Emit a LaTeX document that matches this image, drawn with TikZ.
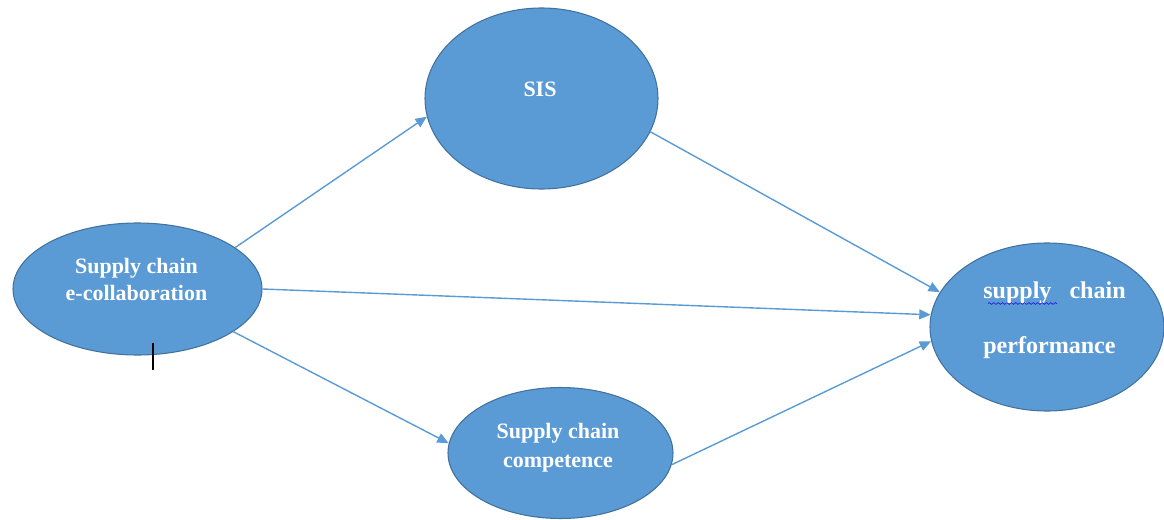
\documentclass[tikz,border=0pt]{standalone}
\usepackage{fontspec}
\setmainfont{Liberation Serif}
\usetikzlibrary{shapes.geometric,arrows.meta,decorations.pathmorphing}

\definecolor{blobfill}{HTML}{5B9BD5}
\definecolor{blobline}{HTML}{41719C}
\definecolor{linkcol}{HTML}{5B9BD5}
\definecolor{spellcol}{HTML}{2020E0}

\begin{document}
\begin{tikzpicture}[
    blob/.style={ellipse, draw=blobline, line width=0.6pt, fill=blobfill, inner sep=0pt},
    lbl/.style={text=white, font=\fontsize{12.5}{15.5}\selectfont\bfseries, align=center, inner sep=0pt},
    link/.style={draw=linkcol, line width=0.8pt, -{Triangle[length=6.5pt,width=5.6pt]}}
  ]
  \useasboundingbox (0,0) rectangle (23.28,10.38);

  % Constructs
  \node[blob, minimum width=4.98cm, minimum height=2.64cm] (ecollab) at (2.75,4.60) {};
  \node[blob, minimum width=4.66cm, minimum height=3.62cm] (sis) at (10.83,8.41) {};
  \node[blob, minimum width=4.50cm, minimum height=2.62cm] (competence) at (11.21,1.32) {};
  \node[blob, minimum width=4.68cm, minimum height=3.36cm] (performance) at (20.94,3.84) {};

  % Labels
  \node[lbl] (ecollabtext) at (2.73,4.79) {Supply chain\\e-collaboration};
  \node[lbl] (sistext) at (10.80,8.60) {SIS};
  \node[lbl] (competencetext) at (11.16,1.43) {Supply chain\\[1pt]competence};
  \node[lbl, align=left, font=\fontsize{13.7}{31.5}\selectfont\bfseries] (performancetext) at (21.09,3.98)
    {supply\ \ \ chain\\performance};

  % Spell-check underline
  \draw[spellcol, line width=0.4pt, decorate,
        decoration={snake, amplitude=0.5pt, segment length=2.5pt}]
    (19.76,4.31) -- (21.14,4.31);

  % Paths
  \draw[link] (ecollab.23) -- (sis.189);
  \draw[link] (ecollab.east) -- (performance.174);
  \draw[link] (ecollab.336) -- (competence.175);
  \draw[link] (sis.343) -- (performance.162);
  \draw[link] (competence.354) -- (performance.187);

  % Text cursor
  \draw[line width=0.6pt] (3.06,3.52) -- (3.06,2.98);
\end{tikzpicture}
\end{document}
